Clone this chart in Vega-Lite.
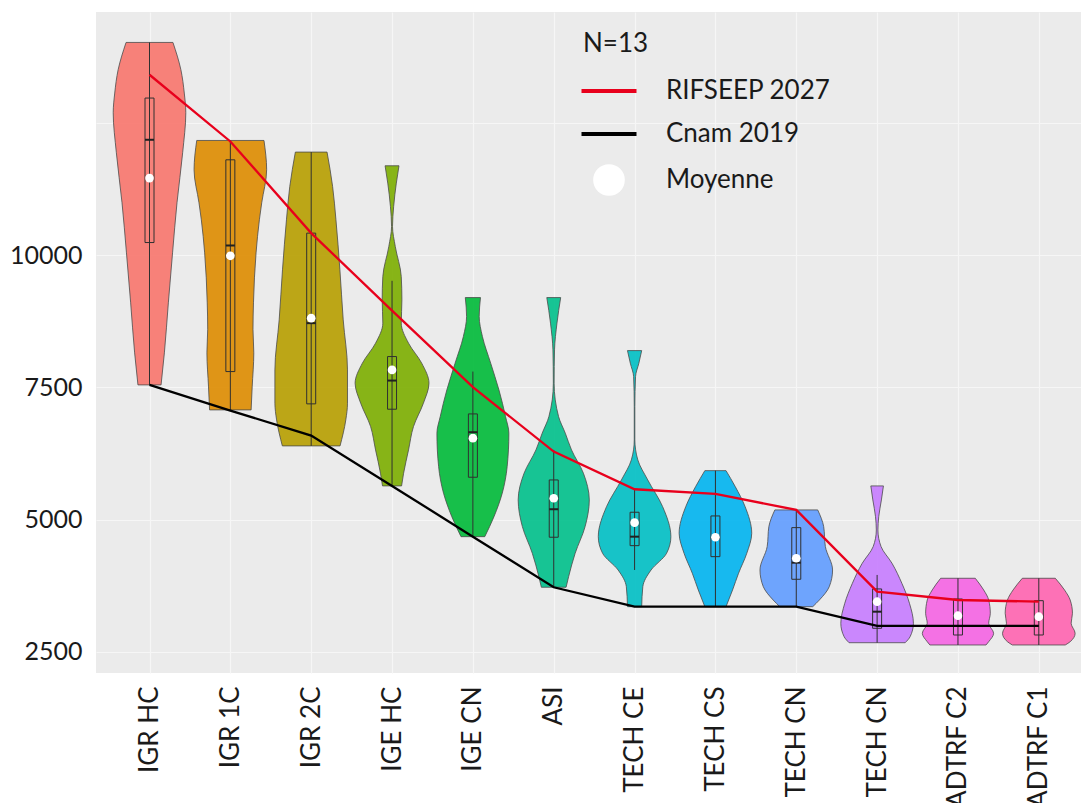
{
  "$schema": "https://vega.github.io/schema/vega-lite/v6.json",
  "width": 985,
  "height": 661,
  "autosize": {"type": "none"},
  "padding": {"left": 96, "top": 12, "right": 0, "bottom": 130},
  "background": "white",
  "config": {"view": {"fill": "#EBEBEB", "stroke": null}, "font": "Lato"},
  "datasets": {
    "violin": [
      {"i":0,"v":14025,"w":0.29},{"i":0,"v":13509,"w":0.388},{"i":0,"v":13068,"w":0.43},{"i":0,"v":12695,"w":0.449},{"i":0,"v":11938,"w":0.41},{"i":0,"v":10992,"w":0.34},{"i":0,"v":10045,"w":0.285},{"i":0,"v":9099,"w":0.233},{"i":0,"v":8153,"w":0.184},{"i":0,"v":7547,"w":0.143},
      {"i":1,"v":12171,"w":0.416},{"i":1,"v":11616,"w":0.449},{"i":1,"v":10992,"w":0.388},{"i":1,"v":10670,"w":0.359},{"i":1,"v":10045,"w":0.318},{"i":1,"v":9099,"w":0.286},{"i":1,"v":8600,"w":0.28},{"i":1,"v":8153,"w":0.29},{"i":1,"v":7509,"w":0.27},{"i":1,"v":7074,"w":0.257},
      {"i":2,"v":11951,"w":0.196},{"i":2,"v":11300,"w":0.265},{"i":2,"v":10670,"w":0.306},{"i":2,"v":9724,"w":0.355},{"i":2,"v":8777,"w":0.396},{"i":2,"v":7831,"w":0.449},{"i":2,"v":7201,"w":0.449},{"i":2,"v":6885,"w":0.428},{"i":2,"v":6393,"w":0.357},
      {"i":3,"v":11692,"w":0.086},{"i":3,"v":11364,"w":0.053},{"i":3,"v":10922,"w":0.02},{"i":3,"v":10543,"w":0.006},{"i":3,"v":10165,"w":0.04},{"i":3,"v":9597,"w":0.114},{"i":3,"v":9156,"w":0.122},{"i":3,"v":8715,"w":0.114},{"i":3,"v":8336,"w":0.204},{"i":3,"v":7958,"w":0.367},{"i":3,"v":7579,"w":0.457},{"i":3,"v":7201,"w":0.388},{"i":3,"v":6758,"w":0.265},{"i":3,"v":6317,"w":0.204},{"i":3,"v":5876,"w":0.143},{"i":3,"v":5636,"w":0.118},
      {"i":4,"v":9199,"w":0.094},{"i":4,"v":8840,"w":0.078},{"i":4,"v":8461,"w":0.118},{"i":4,"v":7958,"w":0.22},{"i":4,"v":7453,"w":0.322},{"i":4,"v":6947,"w":0.404},{"i":4,"v":6633,"w":0.445},{"i":4,"v":6001,"w":0.424},{"i":4,"v":5498,"w":0.363},{"i":4,"v":5055,"w":0.261},{"i":4,"v":4676,"w":0.147},
      {"i":5,"v":9199,"w":0.086},{"i":5,"v":8715,"w":0.04},{"i":5,"v":8210,"w":0.01},{"i":5,"v":7579,"w":0.005},{"i":5,"v":6947,"w":0.06},{"i":5,"v":6633,"w":0.143},{"i":5,"v":6317,"w":0.22},{"i":5,"v":5876,"w":0.367},{"i":5,"v":5371,"w":0.44},{"i":5,"v":4866,"w":0.388},{"i":5,"v":4362,"w":0.265},{"i":5,"v":3919,"w":0.184},{"i":5,"v":3719,"w":0.153},
      {"i":6,"v":8196,"w":0.088},{"i":6,"v":7958,"w":0.053},{"i":6,"v":7704,"w":0.012},{"i":6,"v":7137,"w":0.004},{"i":6,"v":6506,"w":0.004},{"i":6,"v":6128,"w":0.04},{"i":6,"v":5749,"w":0.163},{"i":6,"v":5244,"w":0.347},{"i":6,"v":4676,"w":0.449},{"i":6,"v":4362,"w":0.396},{"i":6,"v":4046,"w":0.204},{"i":6,"v":3730,"w":0.102},{"i":6,"v":3352,"w":0.088},
      {"i":7,"v":5925,"w":0.131},{"i":7,"v":5623,"w":0.245},{"i":7,"v":5244,"w":0.367},{"i":7,"v":4741,"w":0.449},{"i":7,"v":4362,"w":0.388},{"i":7,"v":3984,"w":0.286},{"i":7,"v":3668,"w":0.212},{"i":7,"v":3352,"w":0.131},
      {"i":8,"v":5182,"w":0.265},{"i":8,"v":4866,"w":0.339},{"i":8,"v":4487,"w":0.36},{"i":8,"v":4046,"w":0.449},{"i":8,"v":3730,"w":0.408},{"i":8,"v":3478,"w":0.286},{"i":8,"v":3352,"w":0.204},
      {"i":9,"v":5636,"w":0.078},{"i":9,"v":5371,"w":0.053},{"i":9,"v":5055,"w":0.02},{"i":9,"v":4803,"w":0.01},{"i":9,"v":4487,"w":0.049},{"i":9,"v":4173,"w":0.184},{"i":9,"v":3794,"w":0.306},{"i":9,"v":3416,"w":0.4},{"i":9,"v":3037,"w":0.449},{"i":9,"v":2784,"w":0.408},{"i":9,"v":2670,"w":0.347},
      {"i":10,"v":3889,"w":0.214},{"i":10,"v":3668,"w":0.318},{"i":10,"v":3478,"w":0.38},{"i":10,"v":3227,"w":0.4},{"i":10,"v":3037,"w":0.38},{"i":10,"v":2848,"w":0.441},{"i":10,"v":2689,"w":0.38},{"i":10,"v":2627,"w":0.347},
      {"i":11,"v":3889,"w":0.204},{"i":11,"v":3668,"w":0.318},{"i":11,"v":3478,"w":0.388},{"i":11,"v":3227,"w":0.416},{"i":11,"v":3037,"w":0.4},{"i":11,"v":2848,"w":0.449},{"i":11,"v":2689,"w":0.388},{"i":11,"v":2627,"w":0.327}
    ],
    "box": [
      {"i":0,"q1":10240,"q3":12973,"med":12184,"mean":11459,"lo":7547,"hi":14025},
      {"i":1,"q1":7799,"q3":11805,"med":10184,"mean":9989,"lo":7074,"hi":12171},
      {"i":2,"q1":7188,"q3":10418,"med":8715,"mean":8810,"lo":6393,"hi":11951},
      {"i":3,"q1":7087,"q3":8083,"med":7629,"mean":7831,"lo":5636,"hi":9516},
      {"i":4,"q1":5800,"q3":6998,"med":6652,"mean":6539,"lo":4676,"hi":7799},
      {"i":5,"q1":4665,"q3":5749,"med":5195,"mean":5403,"lo":3719,"hi":6317},
      {"i":6,"q1":4506,"q3":5138,"med":4676,"mean":4941,"lo":4046,"hi":5560},
      {"i":7,"q1":4298,"q3":5068,"med":4650,"mean":4665,"lo":3352,"hi":5925},
      {"i":8,"q1":3870,"q3":4847,"med":4184,"mean":4268,"lo":3352,"hi":5182},
      {"i":9,"q1":2943,"q3":3687,"med":3257,"mean":3446,"lo":2670,"hi":3952},
      {"i":10,"q1":2816,"q3":3497,"med":3181,"mean":3181,"lo":2627,"hi":3889},
      {"i":11,"q1":2816,"q3":3465,"med":3162,"mean":3162,"lo":2627,"hi":3889}
    ],
    "lines": [
      {"i":0,"serie":"RIFSEEP 2027","v":13414},{"i":1,"serie":"RIFSEEP 2027","v":12152},{"i":2,"serie":"RIFSEEP 2027","v":10418},{"i":3,"serie":"RIFSEEP 2027","v":8953},{"i":4,"serie":"RIFSEEP 2027","v":7504},{"i":5,"serie":"RIFSEEP 2027","v":6285},{"i":6,"serie":"RIFSEEP 2027","v":5573},{"i":7,"serie":"RIFSEEP 2027","v":5484},{"i":8,"serie":"RIFSEEP 2027","v":5182},{"i":9,"serie":"RIFSEEP 2027","v":3636},{"i":10,"serie":"RIFSEEP 2027","v":3478},{"i":11,"serie":"RIFSEEP 2027","v":3446},
      {"i":0,"serie":"Cnam 2019","v":7547},{"i":1,"serie":"Cnam 2019","v":7061},{"i":2,"serie":"Cnam 2019","v":6588},{"i":3,"serie":"Cnam 2019","v":5636},{"i":4,"serie":"Cnam 2019","v":4676},{"i":5,"serie":"Cnam 2019","v":3719},{"i":6,"serie":"Cnam 2019","v":3352},{"i":7,"serie":"Cnam 2019","v":3352},{"i":8,"serie":"Cnam 2019","v":3352},{"i":9,"serie":"Cnam 2019","v":2990},{"i":10,"serie":"Cnam 2019","v":2990},{"i":11,"serie":"Cnam 2019","v":2990}
    ]
  },
  "layer": [
    {
      "data": {"name": "violin"},
      "transform": [
        {"calculate": "datum.i - datum.w", "as": "lo"},
        {"calculate": "datum.i + datum.w", "as": "hi"}
      ],
      "mark": {"type": "area", "orient": "horizontal", "interpolate": "monotone", "fillOpacity": 0.9, "stroke": "#4a4a4a", "strokeWidth": 0.8},
      "encoding": {
        "y": {"field": "v", "type": "quantitative", "scale": {"domain": [2097, 14601], "nice": false, "zero": false},
          "axis": {"title": null, "values": [2500, 5000, 7500, 10000, 12500], "labelExpr": "datum.value == 12500 ? '' : format(datum.value, 'd')", "labelFont": "Lato", "labelFontSize": 25, "labelColor": "#1a1a1a", "labelPadding": 14, "ticks": false, "tickSize": 0, "domain": false, "grid": true, "gridColor": "#F6F6F6", "gridWidth": 1.2}},
        "x": {"field": "lo", "type": "quantitative", "scale": {"domain": [-0.6, 11.46], "nice": false, "zero": false},
          "axis": {"title": null, "values": [0,1,2,3,4,5,6,7,8,9,10,11], "labelExpr": "['IGR HC','IGR 1C','IGR 2C','IGE HC','IGE CN','ASI','TECH CE','TECH CS','TECH CN','TECH CN','ADTRF C2','ADTRF C1'][datum.value]", "labelAngle": -90, "labelFont": "Lato", "labelFontSize": 26, "labelColor": "#1a1a1a", "labelPadding": 13, "labelOverlap": false, "labelFlush": false, "ticks": false, "tickSize": 0, "domain": false, "grid": true, "gridColor": "#F6F6F6", "gridWidth": 1.2}},
        "x2": {"field": "hi"},
        "fill": {"field": "i", "type": "nominal", "legend": null,
          "scale": {"domain": [0,1,2,3,4,5,6,7,8,9,10,11], "range": ["#F8766D","#DE8C00","#B79F00","#7CAE00","#00BA38","#00C08B","#00BFC4","#00B4F0","#619CFF","#C77CFF","#F564E3","#FF64B0"]}}
      }
    },
    {
      "data": {"name": "box"},
      "mark": {"type": "rule", "color": "#303030", "strokeWidth": 1},
      "encoding": {
        "x": {"field": "i", "type": "quantitative", "title": null},
        "y": {"field": "lo", "type": "quantitative", "title": null},
        "y2": {"field": "hi"}
      }
    },
    {
      "data": {"name": "box"},
      "mark": {"type": "bar", "size": 9, "fillOpacity": 0, "stroke": "#303030", "strokeWidth": 1},
      "encoding": {
        "x": {"field": "i", "type": "quantitative", "title": null},
        "y": {"field": "q1", "type": "quantitative", "title": null},
        "y2": {"field": "q3"}
      }
    },
    {
      "data": {"name": "box"},
      "mark": {"type": "tick", "orient": "horizontal", "size": 9, "thickness": 2, "color": "#202020", "opacity": 1},
      "encoding": {
        "x": {"field": "i", "type": "quantitative", "title": null},
        "y": {"field": "med", "type": "quantitative", "title": null}
      }
    },
    {
      "data": {"name": "lines"},
      "mark": {"type": "line", "strokeWidth": 2.3},
      "encoding": {
        "x": {"field": "i", "type": "quantitative", "title": null},
        "y": {"field": "v", "type": "quantitative", "title": null},
        "stroke": {"field": "serie", "type": "nominal",
          "scale": {"domain": ["RIFSEEP 2027", "Cnam 2019", "Moyenne"], "range": ["#E8001C", "#000000", "#FFFFFF"]},
          "legend": {
            "title": "N=13", "orient": "none", "legendX": 487, "legendY": 19, "padding": 0,
            "titleFont": "Lato", "titleFontSize": 26, "titleFontWeight": "normal", "titleColor": "#1a1a1a", "titlePadding": 21,
            "labelFont": "Lato", "labelFontSize": 26, "labelColor": "#1a1a1a", "labelOffset": 57, "labelLimit": 0,
            "symbolType": "M-1.25,0H1.25", "symbolSize": 1936, "symbolStrokeWidth": 4, "rowPadding": 17,
            "encode": {"symbols": {"update": {
              "x": {"value": 26},
              "shape": {"signal": "datum.value === 'Moyenne' ? 'circle' : 'M-1.25,0H1.25'"},
              "size": {"signal": "datum.value === 'Moyenne' ? 1000 : 1936"},
              "fill": {"signal": "datum.value === 'Moyenne' ? '#FFFFFF' : 'transparent'"},
              "strokeWidth": {"signal": "datum.value === 'Moyenne' ? 0 : 4"},
              "opacity": {"value": 1}
            }}}
          }}
      }
    },
    {
      "data": {"name": "box"},
      "mark": {"type": "point", "filled": true, "fill": "#FFFFFF", "size": 75, "opacity": 1, "strokeWidth": 0},
      "encoding": {
        "x": {"field": "i", "type": "quantitative", "title": null},
        "y": {"field": "mean", "type": "quantitative", "title": null},
        "stroke": {"datum": "Moyenne", "type": "nominal"}
      }
    }
  ]
}
